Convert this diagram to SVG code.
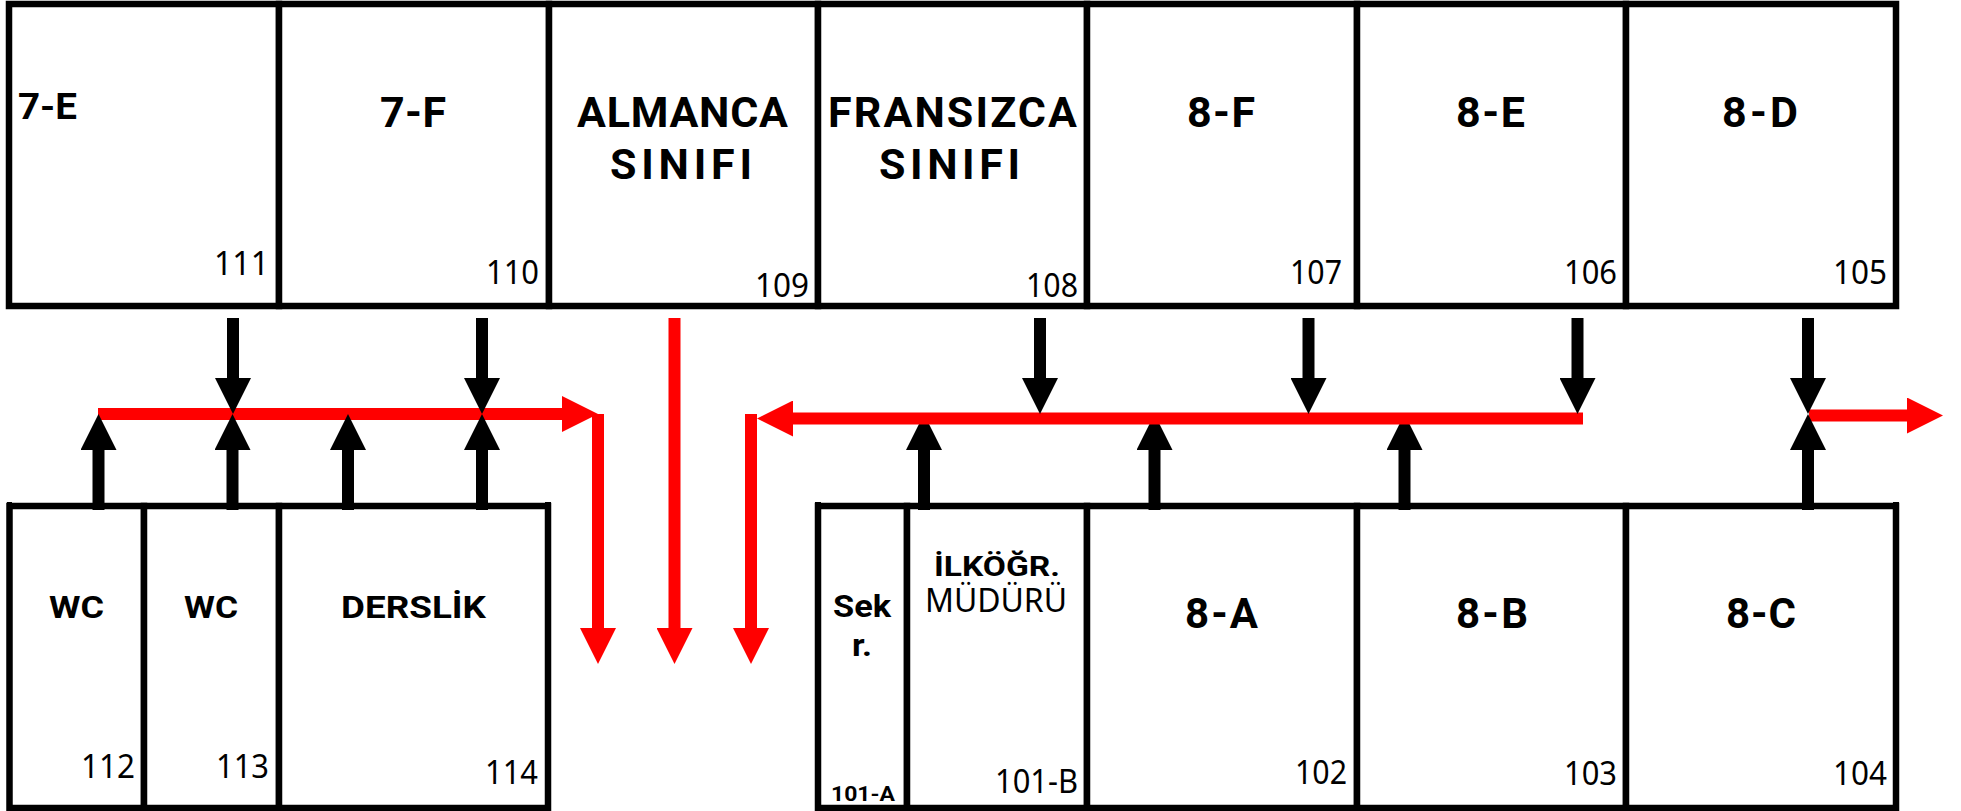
<svg xmlns="http://www.w3.org/2000/svg" width="1961" height="811" viewBox="0 0 1961 811">
<style>
.room{fill:#fff;stroke:#000;stroke-width:6.5}
.stub{fill:#000}
text{font-family:"Roboto","Noto Sans","Liberation Sans",sans-serif;fill:#000;font-size:32px}
.n{font-family:"Noto Sans","Liberation Sans",sans-serif;font-size:33px;font-weight:400}
.b{font-weight:700}
.t{font-size:43px;font-weight:700}
.u{font-size:42px;font-weight:700}
.k{stroke:#000;stroke-width:12;fill:none}
.r{stroke:#f00;stroke-width:12;fill:none}
.ka{marker-end:url(#mk)}
.ra{marker-end:url(#mr)}
</style>
<defs>
<marker id="mk" markerUnits="userSpaceOnUse" markerWidth="36" markerHeight="36" viewBox="0 0 36 36" refX="0" refY="18" orient="auto"><path d="M0 0L36 18L0 36z" fill="#000"/></marker>
<marker id="mr" markerUnits="userSpaceOnUse" markerWidth="36" markerHeight="36" viewBox="0 0 36 36" refX="0" refY="18" orient="auto"><path d="M0 0L36 18L0 36z" fill="#f00"/></marker>
</defs>
<rect width="1961" height="811" fill="#fff"/>
<g id="room-111"><rect class="room" x="9" y="4" width="270" height="302"/><text class="b" x="18" y="119" style="font-size:37px" textLength="59" lengthAdjust="spacingAndGlyphs">7-E</text><text class="n" x="214" y="275" textLength="55" lengthAdjust="spacingAndGlyphs">111</text></g>
<g id="room-110"><rect class="room" x="279" y="4" width="270" height="302"/><text class="t" x="380" y="127" textLength="66" lengthAdjust="spacing">7-F</text><text class="n" x="486" y="284" textLength="53" lengthAdjust="spacingAndGlyphs">110</text></g>
<g id="room-109"><rect class="room" x="549" y="4" width="269" height="302"/><text class="t" x="577" y="127" textLength="211" lengthAdjust="spacing">ALMANCA</text><text class="t" x="610" y="179" textLength="142" lengthAdjust="spacing">SINIFI</text><text class="n" x="755" y="297" textLength="54" lengthAdjust="spacingAndGlyphs">109</text></g>
<g id="room-108"><rect class="room" x="818" y="4" width="269" height="302"/><text class="t" x="828" y="127" textLength="249" lengthAdjust="spacing">FRANSIZCA</text><text class="t" x="879" y="179" textLength="141" lengthAdjust="spacing">SINIFI</text><text class="n" x="1026" y="297" textLength="52" lengthAdjust="spacingAndGlyphs">108</text></g>
<g id="room-107"><rect class="room" x="1087" y="4" width="270" height="302"/><text class="t" x="1187" y="127" textLength="68" lengthAdjust="spacing">8-F</text><text class="n" x="1290" y="284" textLength="52" lengthAdjust="spacingAndGlyphs">107</text></g>
<g id="room-106"><rect class="room" x="1357" y="4" width="269" height="302"/><text class="t" x="1456" y="127" textLength="69" lengthAdjust="spacing">8-E</text><text class="n" x="1564" y="284" textLength="53" lengthAdjust="spacingAndGlyphs">106</text></g>
<g id="room-105"><rect class="room" x="1626" y="4" width="270" height="302"/><text class="t" x="1722" y="127" textLength="76" lengthAdjust="spacing">8-D</text><text class="n" x="1833" y="284" textLength="54" lengthAdjust="spacingAndGlyphs">105</text></g>
<g id="room-112"><rect class="room" x="9.5" y="506" width="134.5" height="302"/><rect class="stub" x="7" y="502" width="5" height="5"/><text class="b" x="49" y="618" textLength="55" lengthAdjust="spacingAndGlyphs">WC</text><text class="n" x="81" y="778" textLength="54" lengthAdjust="spacingAndGlyphs">112</text></g>
<g id="room-113"><rect class="room" x="144" y="506" width="135" height="302"/><text class="b" x="184" y="618" textLength="54" lengthAdjust="spacingAndGlyphs">WC</text><text class="n" x="216" y="778" textLength="53" lengthAdjust="spacingAndGlyphs">113</text></g>
<g id="room-114"><rect class="room" x="279" y="506" width="269" height="302"/><rect class="stub" x="545" y="502" width="6" height="5"/><text class="b" x="341" y="618" textLength="145" lengthAdjust="spacingAndGlyphs">DERSLİK</text><text class="n" x="485" y="784" textLength="53" lengthAdjust="spacingAndGlyphs">114</text></g>
<g id="room-101-A"><rect class="room" x="818" y="506" width="89" height="302"/><rect class="stub" x="815" y="502" width="6" height="5"/><text class="b" x="833" y="617" style="font-size:31px" textLength="58" lengthAdjust="spacingAndGlyphs">Sek</text><text class="b" x="852" y="656" style="font-size:31px" textLength="20" lengthAdjust="spacingAndGlyphs">r.</text><text class="b" x="831" y="801" style="font-size:21px" textLength="64" lengthAdjust="spacingAndGlyphs">101-A</text></g>
<g id="room-101-B"><rect class="room" x="907" y="506" width="180" height="302"/><text class="b" x="934" y="576" style="font-size:27px" textLength="126" lengthAdjust="spacingAndGlyphs">İLKÖĞR.</text><text class="n" x="925" y="612" textLength="142" lengthAdjust="spacingAndGlyphs">MÜDÜRÜ</text><text class="n" x="995" y="793" textLength="83" lengthAdjust="spacingAndGlyphs">101-B</text></g>
<g id="room-102"><rect class="room" x="1087" y="506" width="270" height="302"/><text class="u" x="1185" y="628" textLength="73" lengthAdjust="spacing">8-A</text><text class="n" x="1295" y="784" textLength="52" lengthAdjust="spacingAndGlyphs">102</text></g>
<g id="room-103"><rect class="room" x="1357" y="506" width="269" height="302"/><text class="u" x="1456" y="628" textLength="72" lengthAdjust="spacing">8-B</text><text class="n" x="1564" y="785" textLength="53" lengthAdjust="spacingAndGlyphs">103</text></g>
<g id="room-104"><rect class="room" x="1626" y="506" width="270" height="302"/><rect class="stub" x="1893" y="502" width="6" height="5"/><text class="u" x="1726" y="628" textLength="70" lengthAdjust="spacing">8-C</text><text class="n" x="1833" y="785" textLength="54" lengthAdjust="spacingAndGlyphs">104</text></g>
<g id="connectors">
<line class="k ka" x1="924" y1="510" x2="924" y2="450"/>
<line class="k ka" x1="1154.5" y1="510" x2="1154.5" y2="450"/>
<line class="k ka" x1="1404.5" y1="510" x2="1404.5" y2="450"/>
<line class="r ra" x1="98" y1="414" x2="562" y2="414"/>
<line class="r ra" x1="598" y1="414" x2="598" y2="628"/>
<line class="r ra" x1="674.5" y1="318" x2="674.5" y2="628"/>
<line class="r ra" x1="751" y1="414" x2="751" y2="628"/>
<line class="r ra" x1="1583" y1="418.5" x2="793" y2="418.5"/>
<line class="r ra" x1="1809" y1="415.5" x2="1907" y2="415.5"/>
<line class="k ka" x1="233" y1="318" x2="233" y2="378"/>
<line class="k ka" x1="482" y1="318" x2="482" y2="378"/>
<line class="k ka" x1="1040" y1="318" x2="1040" y2="378"/>
<line class="k ka" x1="1308.5" y1="318" x2="1308.5" y2="378"/>
<line class="k ka" x1="1577.5" y1="318" x2="1577.5" y2="378"/>
<line class="k ka" x1="1808" y1="318" x2="1808" y2="378"/>
<line class="k ka" x1="98.5" y1="510" x2="98.5" y2="450"/>
<line class="k ka" x1="232.5" y1="510" x2="232.5" y2="450"/>
<line class="k ka" x1="348" y1="510" x2="348" y2="450"/>
<line class="k ka" x1="482" y1="510" x2="482" y2="450"/>
<line class="k ka" x1="1808" y1="510" x2="1808" y2="450"/>
</g>
</svg>
